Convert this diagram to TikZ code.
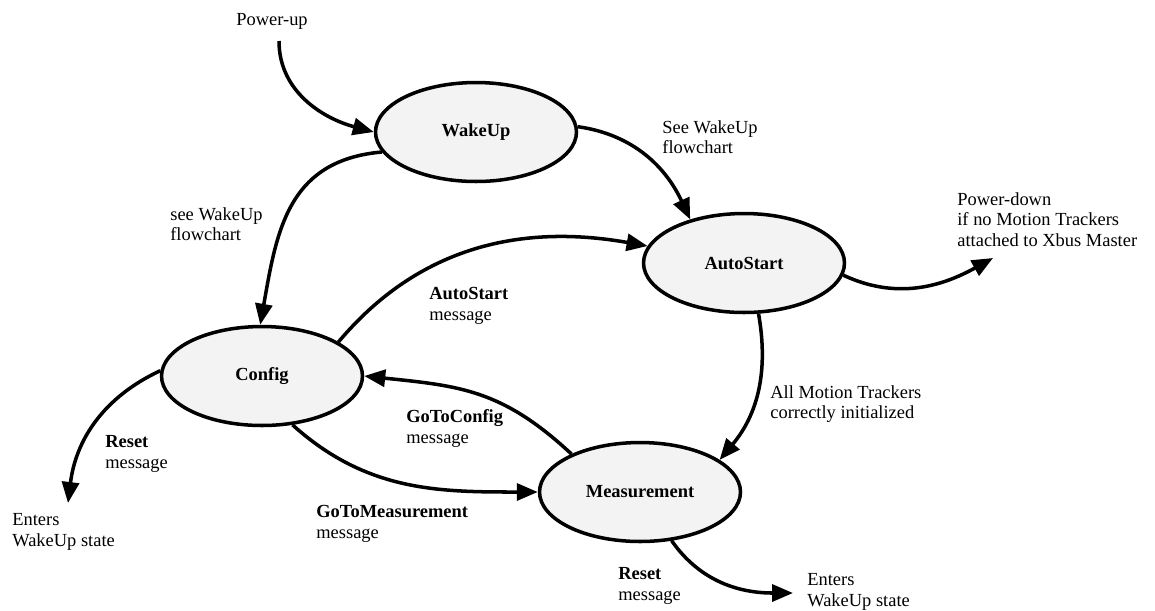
\documentclass[tikz,border=0pt]{standalone}
\usepackage{fontspec}
\setmainfont{Liberation Serif}
\usetikzlibrary{arrows.meta, shapes.geometric}
\definecolor{StateGray}{RGB}{243,243,243}

\begin{document}
\begin{tikzpicture}[x=0.02cm, y=0.02cm,
    state/.style={draw, ellipse, line width=2pt, fill=StateGray, minimum width=4.02cm, minimum height=1.98cm, font=\fontsize{10.5}{12}\selectfont\bfseries},
    note/.style={anchor=north west, inner sep=0pt, align=left, font=\fontsize{10.5}{11.8}\selectfont},
    edge/.style={-{Triangle[length=0.42cm, width=0.34cm]}, line width=2pt}]

    \useasboundingbox (0,0) rectangle (1155,-610);

    % States
    \node[state] (wakeup) at (476,-132) {WakeUp};
    \node[state] (autostart) at (744,-263) {AutoStart};
    \node[state] (config) at (262,-376) {Config};
    \node[state] (measure) at (640,-492) {Measurement};

    % Texts
    \node[note] (pwrup) at (236,-13) {Power-up};
    \node[note] (seewuA) at (170,-207) {see WakeUp\\flowchart};
    \node[note] (seewuB) at (662,-120) {See WakeUp\\flowchart};
    \node[note] (pwrdown) at (957,-192) {Power-down\\if no Motion Trackers\\attached to Xbus Master};
    \node[note] (automsg) at (429,-287) {\textbf{AutoStart}\\message};
    \node[note] (alltrk) at (770,-385) {All Motion Trackers\\correctly initialized};
    \node[note] (gocfg) at (406,-409) {\textbf{GoToConfig}\\message};
    \node[note] (gomeas) at (316,-505) {\textbf{GoToMeasurement}\\message};
    \node[note] (resetA) at (105,-435) {\textbf{Reset}\\message};
    \node[note] (enterA) at (12,-513) {Enters\\WakeUp state};
    \node[note] (resetB) at (618,-567) {\textbf{Reset}\\message};
    \node[note] (enterB) at (807,-573) {Enters\\WakeUp state};

    % Free ends
    \coordinate (pwrupend) at (279,-41);
    \coordinate (pwrdownend) at (993,-258);
    \coordinate (resetAend) at (68,-503);
    \coordinate (resetBend) at (793,-593);

    % Transitions
    \draw[edge] (pwrupend) to[out=-90, in=165] (wakeup.west);
    \draw[edge] (wakeup.192) to[out=185, in=80, looseness=1.15] (config.92);
    \draw[edge] (wakeup.3) to[out=-8, in=115] (autostart.141);
    \draw[edge] (autostart.-7) to[out=-25, in=209] (pwrdownend);
    \draw[edge] (config.24) to[out=50, in=170] (autostart.170);
    \draw[edge] (autostart.-74) to[out=-80, in=50] (measure.22);
    \draw[edge] (measure.151) to[out=137, in=-6, looseness=1.1] (config.east);
    \draw[edge] (config.-58) to[out=-42, in=180] (measure.west);
    \draw[edge] (config.177) to[out=205, in=83] (resetAend);
    \draw[edge] (measure.-57) to[out=-55, in=180] (resetBend);
\end{tikzpicture}
\end{document}
